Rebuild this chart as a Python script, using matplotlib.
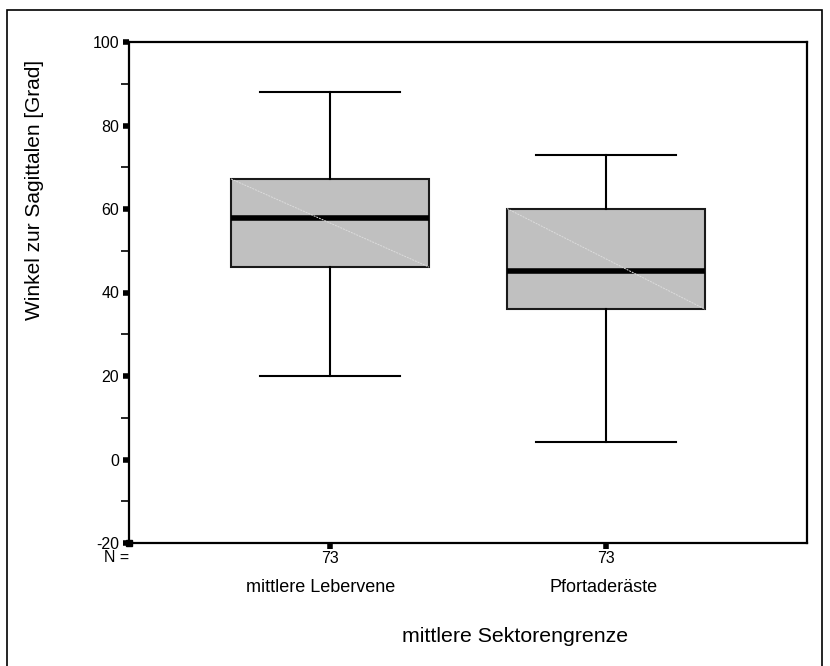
import matplotlib
matplotlib.use("Agg")
import matplotlib.pyplot as plt
from matplotlib.patches import Rectangle

plt.rcParams['font.family'] = ['Liberation Sans', 'DejaVu Sans']

categories = ["mittlere Lebervene", "Pfortaderäste"]
n_counts = [73, 73]
whislo = [19.9, 4.2]
q1 = [46.1, 36.0]
med = [57.8, 45.1]
q3 = [67.2, 60.1]
whishi = [88.1, 72.9]
yticks_major = [-20, 0, 20, 40, 60, 80, 100]
yticks_minor = [-10, 10, 30, 50, 70, 90]

fig = plt.figure(figsize=(8.3, 6.66), dpi=100)
ax = fig.add_axes([129/830, 1-543/666, (807-129)/830, (543-42)/666])

# outer frame
fig.add_artist(Rectangle((7/830, -0.05), (822-7)/830, 1-10/666+0.05,
                         transform=fig.transFigure, fill=False, edgecolor='black', lw=1.2))

positions = [1, 2]
stats = []
for i in range(2):
    stats.append(dict(whislo=whislo[i], q1=q1[i], med=med[i], q3=q3[i], whishi=whishi[i], fliers=[]))

bw = 0.717
ax.bxp(stats, positions=positions, widths=bw, patch_artist=True, showfliers=False,
       boxprops=dict(facecolor='#c0c0c0', edgecolor='#1a1a1a', linewidth=1.5),
       medianprops=dict(color='black', linewidth=4.0, solid_capstyle='butt'),
       whiskerprops=dict(color='black', linewidth=1.5),
       capprops=dict(color='black', linewidth=1.5),
       capwidths=0.507)

# faint diagonal inside boxes
for i, p in enumerate(positions):
    ax.plot([p - bw/2, p + bw/2], [q3[i], q1[i]], color='#dcdcdc', lw=0.7, ls=(0, (2, 1)), zorder=3)

ax.set_xlim(1 - 201/276, 2 + 201/276)
ax.set_ylim(-20, 100)

for s in ['left', 'bottom', 'top', 'right']:
    ax.spines[s].set_linewidth(1.6)
    ax.spines[s].set_color('black')

ax.set_yticks(yticks_major)
ax.set_yticklabels([str(v) for v in yticks_major], fontsize=11.5)
ax.set_yticks(yticks_minor, minor=True)
ax.tick_params(axis='y', which='major', length=4, width=4, direction='out', pad=3)
ax.tick_params(axis='y', which='minor', length=6, width=1.2, direction='out')

ax.set_xticks(positions)
ax.set_xticklabels([str(n) for n in n_counts], fontsize=11.5)
ax.tick_params(axis='x', which='major', length=4, width=4, direction='out', pad=2)
ax.tick_params(axis='x', which='minor', length=0)

# small square at bottom-left corner
ax.plot([ax.get_xlim()[0]], [-20], marker='s', ms=4, color='black', clip_on=False, zorder=5)

fig.text(117/830, 1-558/666, "N =", fontsize=11.5, ha='center', va='center')
label_offsets = [-9/276, -2/276]
for i, p in enumerate(positions):
    ax.text(p + label_offsets[i], (543-587)/501, categories[i], transform=ax.get_xaxis_transform(),
            fontsize=13, ha='center', va='center')

fig.text(515/830, 1-637/666, "mittlere Sektorengrenze", fontsize=15.3, ha='center', va='center')
fig.text(35/830, 1-190/666, "Winkel zur Sagittalen [Grad]", fontsize=15, rotation=90,
         ha='center', va='center')

fig.savefig("out.png", dpi=100)
